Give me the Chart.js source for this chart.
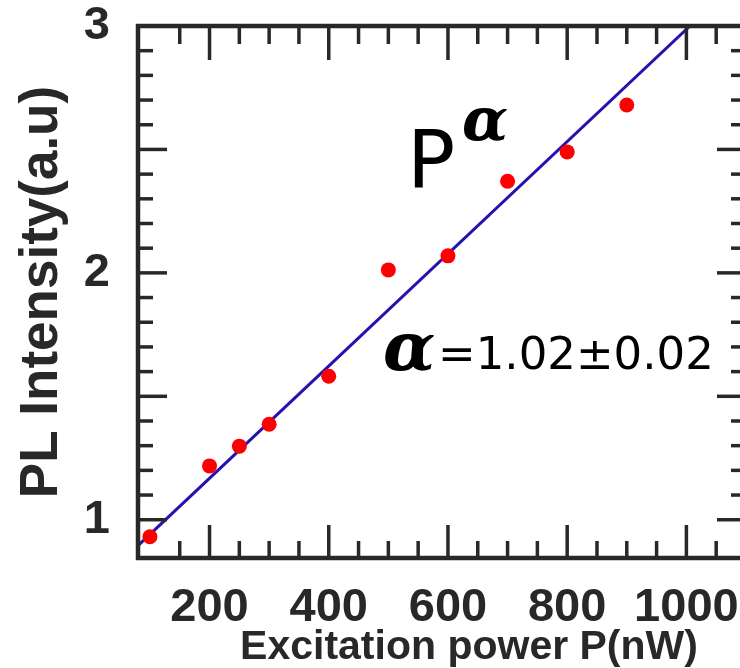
<!DOCTYPE html>
<html>
<head>
<meta charset="utf-8">
<title>PL intensity vs excitation power</title>
<script src="https://cdn.jsdelivr.net/npm/chart.js@4.4.1/dist/chart.umd.min.js"></script>
<style>
  html, body { margin: 0; padding: 0; background: #fff; overflow: hidden; }
  #wrap { width: 750px; height: 668px; }
</style>
</head>
<body>
<div id="wrap"><canvas id="chart" width="750" height="668"></canvas></div>
<script>
const powerNW = [100, 200, 250, 300, 400, 500, 600, 700, 800, 900];
const plIntensity = [0.931, 1.218, 1.298, 1.387, 1.581, 2.012, 2.069, 2.371, 2.49, 2.68];

// fitted line end points
const fitPower = [80, 1006];
const fitIntensity = [0.895, 3.0];

// labelled ticks
const xLabelValues = [200, 400, 600, 800, 1000];
const yLabelValues = [1, 2, 3];

const INK = '#282828';

function near(v, step) {
  return Math.abs(v / step - Math.round(v / step)) < 1e-6;
}

// frame + inward ticks on all four sides, plus the text annotations
const frameAndTicks = {
  id: 'frameAndTicks',
  afterDraw(chart) {
    const { ctx, chartArea: a, scales: { x, y } } = chart;
    ctx.save();
    ctx.strokeStyle = INK;
    ctx.lineWidth = 3.5;
    const seg = (x1, y1, x2, y2) => { ctx.beginPath(); ctx.moveTo(x1, y1); ctx.lineTo(x2, y2); ctx.stroke(); };

    x.ticks.forEach(t => {
      if (!near(t.value, 50)) return;
      const px = x.getPixelForValue(t.value);
      const major = near(t.value, 200);
      seg(px, a.bottom, px, a.bottom - (major ? 33 : 17));
      seg(px, a.top, px, a.top + (major ? 34 : 18));
    });
    y.ticks.forEach(t => {
      if (!near(t.value, 0.1)) return;
      const py = y.getPixelForValue(t.value);
      const major = near(t.value, 0.5);
      seg(a.left, py, a.left + (major ? 29 : 15), py);
      seg(a.right, py, a.right - (major ? 29 : 15), py);
    });

    ctx.lineWidth = 4.5;
    ctx.strokeRect(a.left, a.top, a.right - a.left, a.bottom - a.top);

    // axis titles
    ctx.fillStyle = INK;
    ctx.font = 'bold 41px "Liberation Sans", Arial, sans-serif';
    ctx.textAlign = 'center';
    ctx.textBaseline = 'alphabetic';
    ctx.fillText('Excitation power P(nW)', 469, 659);

    ctx.save();
    ctx.translate(57, 292);
    ctx.rotate(-Math.PI / 2);
    ctx.font = 'bold 53px "Liberation Sans", Arial, sans-serif';
    ctx.fillText('PL Intensity(a.u)', 0, 0);
    ctx.restore();

    // annotations
    ctx.fillStyle = '#000';
    ctx.textAlign = 'left';
    ctx.font = '80px "DejaVu Sans", sans-serif';
    ctx.fillText('P', 407, 188);
    ctx.font = 'italic bold 60px "DejaVu Serif", serif';
    ctx.fillText('\u03b1', 462, 140);

    ctx.font = 'italic bold 68px "DejaVu Serif", serif';
    ctx.fillText('\u03b1', 383, 370);
    ctx.font = '45px "DejaVu Sans", sans-serif';
    ctx.fillText('=1.02\u00b10.02', 438, 369);
    ctx.restore();
  }
};

const tickFont = { family: '"Liberation Sans", Arial, sans-serif', size: 47, weight: 'bold' };

// keep the plot frame where the figure has it: no extra room for overhanging labels
function noOverhang(s) {
  s.paddingTop = 0; s.paddingBottom = 0; s.paddingLeft = 0; s.paddingRight = 0;
}

new Chart(document.getElementById('chart'), {
  type: 'scatter',
  data: {
    datasets: [
      {
        label: 'PL intensity',
        data: powerNW.map((p, i) => ({ x: p, y: plIntensity[i] })),
        pointRadius: 7.5,
        pointBackgroundColor: '#ff0000',
        pointBorderWidth: 0,
        showLine: false
      },
      {
        label: 'fit',
        type: 'line',
        data: fitPower.map((p, i) => ({ x: p, y: fitIntensity[i] })),
        borderColor: '#2612ae',
        borderWidth: 3,
        pointRadius: 0,
        fill: false
      }
    ]
  },
  options: {
    responsive: false,
    animation: false,
    layout: { autoPadding: false, padding: { top: 26, right: 4, left: 0, bottom: 0 } },
    plugins: { legend: { display: false }, tooltip: { enabled: false } },
    scales: {
      x: {
        type: 'linear',
        position: 'bottom',
        min: 80,
        max: 1100,
        afterFit(s) { s.height = 110; noOverhang(s); },
        grid: { display: false, drawTicks: false },
        border: { display: false },
        ticks: {
          stepSize: 50,
          autoSkip: false,
          maxRotation: 0,
          padding: 22,
          color: INK,
          font: tickFont,
          callback: v => xLabelValues.find(l => Math.abs(l - v) < 1e-6) !== undefined ? String(Math.round(v)) : ''
        }
      },
      y: {
        type: 'linear',
        min: 0.845,
        max: 3.0,
        afterFit(s) { s.width = 138; noOverhang(s); },
        grid: { display: false, drawTicks: false },
        border: { display: false },
        ticks: {
          stepSize: 0.1,
          autoSkip: false,
          padding: 28,
          color: INK,
          font: tickFont,
          callback: v => yLabelValues.find(l => Math.abs(l - v) < 1e-6) !== undefined ? String(Math.round(v)) : ''
        }
      }
    }
  },
  plugins: [frameAndTicks]
});
</script>
</body>
</html>
